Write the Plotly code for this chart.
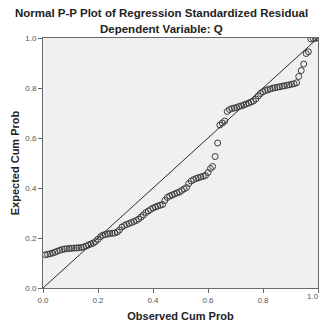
import plotly.graph_objects as go

# Observed cumulative probability (x) and expected cumulative probability (y)
observed_cum_prob = [
    0.009, 0.017, 0.026, 0.035, 0.043, 0.052, 0.061, 0.070, 0.078, 0.087,
    0.096, 0.104, 0.113, 0.122, 0.130, 0.139, 0.148, 0.157, 0.165, 0.174,
    0.183, 0.191, 0.200, 0.209, 0.217, 0.226, 0.235, 0.243, 0.252, 0.261,
    0.270, 0.278, 0.287, 0.296, 0.304, 0.313, 0.322, 0.330, 0.339, 0.348,
    0.357, 0.365, 0.374, 0.383, 0.391, 0.400, 0.409, 0.417, 0.426, 0.435,
    0.443, 0.452, 0.461, 0.470, 0.478, 0.487, 0.496, 0.504, 0.513, 0.522,
    0.530, 0.539, 0.548, 0.557, 0.565, 0.574, 0.583, 0.591, 0.600, 0.609,
    0.617, 0.626, 0.635, 0.643, 0.652, 0.661, 0.670, 0.678, 0.687, 0.696,
    0.704, 0.713, 0.722, 0.730, 0.739, 0.748, 0.757, 0.765, 0.774, 0.783,
    0.791, 0.800, 0.809, 0.817, 0.826, 0.835, 0.843, 0.852, 0.861, 0.870,
    0.878, 0.887, 0.896, 0.904, 0.913, 0.922, 0.930, 0.939, 0.948, 0.957,
    0.965, 0.974, 0.983, 0.991, 1.000,
]
expected_cum_prob = [
    0.133, 0.135, 0.137, 0.140, 0.143, 0.147, 0.151, 0.154, 0.156, 0.157,
    0.158, 0.159, 0.160, 0.160, 0.161, 0.162, 0.164, 0.168, 0.172, 0.176,
    0.180, 0.186, 0.195, 0.205, 0.211, 0.214, 0.216, 0.218, 0.219, 0.220,
    0.224, 0.232, 0.244, 0.250, 0.254, 0.258, 0.262, 0.266, 0.270, 0.276,
    0.284, 0.292, 0.302, 0.308, 0.314, 0.320, 0.324, 0.328, 0.331, 0.334,
    0.350, 0.362, 0.368, 0.372, 0.376, 0.380, 0.384, 0.390, 0.396, 0.402,
    0.418, 0.428, 0.434, 0.438, 0.441, 0.444, 0.447, 0.450, 0.462, 0.478,
    0.486, 0.526, 0.580, 0.652, 0.660, 0.668, 0.706, 0.714, 0.718, 0.720,
    0.722, 0.726, 0.729, 0.732, 0.736, 0.740, 0.744, 0.748, 0.756, 0.768,
    0.778, 0.785, 0.790, 0.793, 0.796, 0.799, 0.801, 0.803, 0.805, 0.807,
    0.809, 0.811, 0.813, 0.815, 0.817, 0.821, 0.846, 0.870, 0.896, 0.938,
    0.945, 0.996, 0.998, 0.999, 1.000,
]
reference_line = [0.0, 1.0]
tick_values = [0.0, 0.2, 0.4, 0.6, 0.8, 1.0]
tick_labels = ["0.0", "0.2", "0.4", "0.6", "0.8", "1.0"]

title_text = "Normal P-P Plot of Regression Standardized Residual"
subtitle_text = "Dependent Variable: Q"
x_title = "Observed Cum Prob"
y_title = "Expected Cum Prob"

FONT = "Liberation Sans, Arial, sans-serif"
TICK_FONT = dict(family=FONT, size=8, color="#555555")

fig = go.Figure()
fig.add_trace(go.Scatter(
    x=reference_line, y=reference_line, mode="lines",
    line=dict(color="#2b2b2b", width=1), hoverinfo="skip", showlegend=False,
))
fig.add_trace(go.Scatter(
    x=observed_cum_prob, y=expected_cum_prob, mode="markers",
    marker=dict(symbol="circle-open", size=6, color="#3a3a3a",
                line=dict(width=1, color="#3a3a3a")),
    showlegend=False,
))

axis_common = dict(
    range=[0, 1], tickmode="array",
    showgrid=False, zeroline=False, showline=True, mirror=True,
    linecolor="#6a6a6a", linewidth=1, ticks="outside", ticklen=4,
    tickcolor="#6a6a6a", tickwidth=1, tickfont=TICK_FONT,
)

# the last x tick label sits at the window edge; keep it inside the page
last_x_label = tick_labels[-1]

fig.update_layout(
    width=321, height=327,
    margin=dict(l=43, r=3, t=38, b=39),
    paper_bgcolor="white", plot_bgcolor="#f0f0f0",
    xaxis=dict(**axis_common, tickvals=tick_values,
               ticktext=tick_labels[:-1] + [""],
               title=dict(text="<b>" + x_title + "</b>", standoff=8,
                          font=dict(family=FONT, size=11, color="#222222"))),
    yaxis=dict(**axis_common, tickvals=tick_values, ticktext=tick_labels,
               title=dict(text="<b>" + y_title + "</b>", standoff=3,
                          font=dict(family=FONT, size=11, color="#222222"))),
    annotations=[
        dict(text="<b>" + title_text + "</b>", xref="paper", yref="paper",
             x=(161 - 43) / 275, y=1.1,
             xanchor="center", yanchor="middle", showarrow=False,
             font=dict(family=FONT, size=11.5, color="#222222")),
        dict(text="<b>" + subtitle_text + "</b>", xref="paper", yref="paper",
             x=(161 - 43) / 275, y=1.034,
             xanchor="center", yanchor="middle", showarrow=False,
             font=dict(family=FONT, size=11.5, color="#222222")),
        dict(text=last_x_label, xref="x", yref="paper",
             x=tick_values[-1], y=0, yshift=-8, xshift=3,
             xanchor="right", yanchor="middle", showarrow=False,
             font=TICK_FONT),
    ],
)

fig.write_html("out.html")
